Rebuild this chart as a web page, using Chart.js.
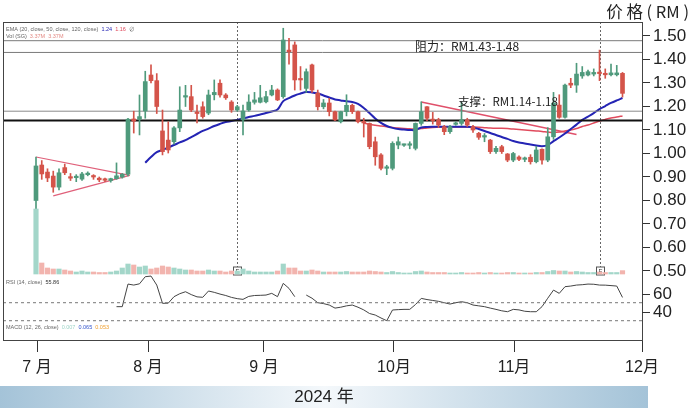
<!DOCTYPE html>
<html>
<head>
<meta charset="utf-8">
<script src="https://cdn.jsdelivr.net/npm/chart.js@4.4.1/dist/chart.umd.min.js"></script>
<style>
  html, body { margin: 0; padding: 0; background: #fff; }
  canvas { display: block; }
</style>
</head>
<body>
<canvas id="chart" width="690" height="408"></canvas>
<script>
// ---- data (one entry per trading day, Jul - Nov 2024) ----
const opens = [0.80,0.951,0.921,0.904,0.857,0.94,0.90,0.897,0.891,0.91,0.902,0.895,0.888,0.885,0.893,0.900,0.912,1.147,1.146,1.181,
  1.334,1.31,1.096,1.057,1.05,1.109,1.24,1.242,1.172,1.199,1.172,1.25,1.299,1.249,1.219,1.185,1.143,1.185,1.218,1.218,
  1.22,1.249,1.27,1.242,1.44,1.462,1.315,1.277,1.377,1.257,1.199,1.215,1.178,1.135,1.178,1.205,1.178,1.135,1.128,1.05,
  0.994,0.937,0.937,1.036,1.035,1.035,1.022,1.128,1.199,1.145,1.143,1.114,1.093,1.124,1.128,1.143,1.114,1.086,1.07,1.057,
  1.008,1.029,0.998,0.972,0.985,0.975,0.984,0.965,1.018,0.972,1.071,1.206,1.154,1.299,1.291,1.33,1.334,1.338,1.345,1.338,
  1.335,1.335,1.341];
const highs = [0.985,0.97,0.935,0.925,0.935,0.955,0.915,0.91,0.92,0.922,0.91,0.90,0.895,0.895,0.96,0.915,1.15,1.18,1.249,1.35,
  1.377,1.34,1.185,1.135,1.115,1.284,1.29,1.29,1.206,1.22,1.27,1.313,1.313,1.255,1.225,1.205,1.206,1.25,1.26,1.29,
  1.265,1.29,1.275,1.533,1.49,1.475,1.37,1.36,1.38,1.27,1.23,1.235,1.18,1.18,1.25,1.21,1.18,1.15,1.13,1.07,
  1.00,0.95,1.05,1.07,1.04,1.05,1.13,1.22,1.20,1.175,1.15,1.12,1.12,1.135,1.22,1.15,1.12,1.09,1.085,1.06,
  1.03,1.035,1.0,1.005,0.99,0.985,0.995,1.03,1.02,1.11,1.26,1.25,1.295,1.32,1.384,1.37,1.355,1.36,1.44,1.36,
  1.38,1.375,1.345];
const lows = [0.76,0.89,0.88,0.835,0.845,0.91,0.885,0.88,0.885,0.905,0.89,0.88,0.88,0.878,0.89,0.895,0.905,1.087,1.079,1.15,
  1.30,1.17,0.994,1.002,1.04,1.093,1.20,1.178,1.13,1.15,1.165,1.228,1.24,1.23,1.175,1.18,1.079,1.18,1.21,1.215,
  1.215,1.245,1.225,1.235,1.38,1.27,1.27,1.26,1.26,1.185,1.19,1.16,1.14,1.13,1.16,1.17,1.13,1.07,1.02,0.95,
  0.93,0.91,0.93,1.02,1.03,1.02,1.015,1.12,1.14,1.125,1.11,1.08,1.085,1.12,1.12,1.115,1.09,1.06,1.05,1.0,
  1.0,1.0,0.965,0.965,0.97,0.965,0.955,0.96,0.955,0.965,1.06,1.15,1.15,1.28,1.26,1.32,1.33,1.33,1.31,1.32,
  1.33,1.33,1.24];
const closes = [0.947,0.913,0.896,0.857,0.918,0.918,0.895,0.899,0.913,0.914,0.90,0.888,0.886,0.893,0.905,0.912,1.146,1.138,1.157,1.306,
  1.31,1.20,1.008,1.015,1.109,1.185,1.245,1.185,1.17,1.157,1.249,1.26,1.249,1.237,1.185,1.199,1.181,1.219,1.228,1.237,
  1.242,1.27,1.228,1.483,1.433,1.313,1.313,1.348,1.27,1.199,1.215,1.178,1.143,1.178,1.205,1.178,1.135,1.13,1.029,0.986,
  0.937,0.94,1.043,1.05,1.037,1.036,1.128,1.178,1.15,1.14,1.121,1.093,1.114,1.127,1.143,1.121,1.10,1.069,1.072,1.008,
  1.022,1.008,0.972,1.0,0.975,0.977,0.965,1.015,0.972,1.071,1.214,1.154,1.291,1.291,1.338,1.345,1.348,1.345,1.34,1.335,
  1.343,1.343,1.256];
// volume in millions of shares
const volumes = [65,11,6,5,5,4,3,2,3,2,2,1.5,1.5,2,3,6,10,9,7,8,
  5,6,8,7,6,5,4,4,3,3,4,3,3,2,3,3,5,3,2,2,
  2,2,3,10,6,6,3,3,4,3,2,2,2,2,2.5,2,2,2,3,2.5,
  2,1.5,2.5,1.5,1,1,2.5,3,2,1.5,1.5,1.5,1,1,1.5,1,1,1.5,1,1.5,
  1,1,1.5,1.5,1,1,1,1.5,1.5,2.5,3.5,3,3,2,2.5,2,1.5,1.5,2,1.5,
  1.5,1.5,3.37];
const ema20 = [null,null,null,null,null,null,null,null,null,null,null,null,null,null,null,null,null,null,null,0.961,
  0.985,1.006,1.015,1.026,1.036,1.047,1.057,1.07,1.083,1.096,1.106,1.117,1.126,1.134,1.138,1.143,1.149,1.155,1.16,1.166,
  1.172,1.179,1.187,1.223,1.236,1.247,1.255,1.262,1.26,1.255,1.247,1.238,1.23,1.226,1.222,1.219,1.211,1.194,1.172,1.149,
  1.13,1.117,1.109,1.104,1.102,1.1,1.1,1.111,1.113,1.114,1.114,1.114,1.114,1.114,1.114,1.114,1.111,1.104,1.096,1.087,
  1.079,1.07,1.062,1.053,1.047,1.043,1.038,1.034,1.031,1.036,1.053,1.068,1.085,1.104,1.123,1.143,1.157,1.172,1.189,1.202,
  1.215,1.226,1.236];
const ema50 = [null,null,null,null,null,null,null,null,null,null,null,null,null,null,null,null,null,null,null,null,
  null,null,null,null,null,null,null,null,null,null,null,null,null,null,null,null,null,null,null,null,
  null,null,null,null,null,null,null,null,null,null,null,null,null,null,null,null,null,1.13,1.124,1.12,
  1.117,1.114,1.111,1.108,1.106,1.105,1.104,1.106,1.109,1.111,1.112,1.113,1.113,1.113,1.113,1.113,1.113,1.112,1.11,1.108,
  1.107,1.107,1.106,1.104,1.102,1.1,1.098,1.096,1.094,1.091,1.089,1.091,1.096,1.1,1.106,1.115,1.121,1.13,1.138,1.145,
  1.151,1.155,1.16];
const rsi = [null,null,null,null,null,null,null,null,null,null,null,null,null,null,45.6,45.6,70.7,69.6,71,78.9,
  79.6,69.6,49.3,49.5,56.7,60,62.2,59,56.5,56,63,61.5,59.6,58,55.9,54.5,53.7,57,58,58.2,
  58.5,60.4,56.7,71.5,65.9,56.7,null,58.5,55,50,49,47.4,44,45,46.5,47.4,45,42,38,36.3,
  33,30,41.9,42.3,42.6,42.6,48,54.8,53.5,52.5,51.5,50,48.5,50,51.1,50,47.4,46.5,45.6,44,
  42.6,41,40,42.6,42,40.5,40,40,45.6,55,64,60.4,67.8,68.5,69.6,70,70.7,70.5,69.6,69.5,
  69,68.5,55.86];

// annotation lines drawn by the analyst: [candle index, price]
const pennantUpper = [[0, 0.985], [16.3, 0.907]];
const pennantLower = [[3, 0.82], [16.3, 0.907]];
const downTrend = [[67, 1.219], [94, 1.081]];
const resistance = [1.48, 1.43];
const support = [1.18, 1.14];
const earningsIdx = [35, 98];
const rsiBands = [50, 30];

// axes
const priceTicks = [0.5, 0.6, 0.7, 0.8, 0.9, 1.0, 1.1, 1.2, 1.3, 1.4, 1.5];
const rsiTicks = [60, 40];
const monthTicks = [0.174, 19.48, 39.65, 62.26, 83.13, 105.39];
const monthLabels = ['7 月', '8 月', '9 月', '10月', '11月', '12月'];
const X_MIN = -5.739, X_MAX = 105.39;

const UP = '#4f9a7c', DOWN = '#d4544a';
const VOL_UP = '#a3d6c9', VOL_DOWN = '#f2b4ae';
const NUM_FONT = '"Liberation Sans", Arial, "Noto Sans CJK SC", sans-serif';
const CJK_FONT = '"Noto Sans CJK SC", "Liberation Sans", sans-serif';

const isUp = opens.map((o, i) => closes[i] >= o);
const idx = opens.map((_, i) => i);

function seg(points) {
  return points.map(p => ({x: p[0], y: p[1]}));
}
function hline(v) {
  return [{x: X_MIN, y: v}, {x: X_MAX, y: v}];
}
function lineDs(data, color, width, extra) {
  return Object.assign({
    type: 'line', data: data, borderColor: color, borderWidth: width,
    pointRadius: 0, fill: false, tension: 0, yAxisID: 'y'
  }, extra || {});
}

const datasets = [
  // volume
  {
    type: 'bar', yAxisID: 'yV', grouped: false, barThickness: 4.5,
    data: idx.map(i => ({x: i, y: volumes[i]})),
    backgroundColor: idx.map(i => isUp[i] ? VOL_UP : VOL_DOWN)
  },
  // candle wicks
  {
    type: 'bar', yAxisID: 'y', grouped: false, barThickness: 1, minBarLength: 1,
    data: idx.map(i => ({x: i, y: [lows[i], highs[i]]})),
    backgroundColor: idx.map(i => isUp[i] ? UP : DOWN)
  },
  // candle bodies
  {
    type: 'bar', yAxisID: 'y', grouped: false, barThickness: 4, minBarLength: 1.5,
    data: idx.map(i => ({x: i, y: [opens[i], closes[i]]})),
    backgroundColor: idx.map(i => isUp[i] ? UP : DOWN)
  },
  // support / resistance levels
  lineDs(hline(resistance[0]), '#7a7a7a', 1),
  lineDs(hline(resistance[1]), '#7a7a7a', 1),
  lineDs(hline(support[0]), '#8a8a8a', 1),
  lineDs(hline(support[1]), '#111', 2),
  // moving averages
  lineDs(idx.map(i => ({x: i, y: ema20[i]})), '#2424b4', 2, {tension: 0.35}),
  lineDs(idx.map(i => ({x: i, y: ema50[i]})), '#e04a5c', 1.5, {tension: 0.35}),
  // trend lines
  lineDs(seg(pennantUpper), '#e0607a', 1.2),
  lineDs(seg(pennantLower), '#e0607a', 1.2),
  lineDs(seg(downTrend), '#e0506a', 1.5),
  // RSI
  lineDs(hline(rsiBands[0]), '#777', 1, {yAxisID: 'yR', borderDash: [3, 3]}),
  lineDs(hline(rsiBands[1]), '#777', 1, {yAxisID: 'yR', borderDash: [3, 3]}),
  lineDs(idx.map(i => ({x: i, y: rsi[i]})), '#444', 1, {yAxisID: 'yR', spanGaps: false})
];

function text(ctx, s, x, y, font, color, align) {
  ctx.font = font;
  ctx.fillStyle = color;
  ctx.textAlign = align || 'left';
  ctx.textBaseline = 'middle';
  ctx.fillText(s, x, y);
}
// draw consecutive coloured pieces of a small legend line
function runs(ctx, x, y, parts, size) {
  ctx.font = size + 'px ' + NUM_FONT;
  ctx.textBaseline = 'middle';
  ctx.textAlign = 'left';
  parts.forEach(p => {
    ctx.fillStyle = p[1];
    ctx.fillText(p[0], x, y);
    x += ctx.measureText(p[0]).width;
  });
}

const overlay = {
  id: 'overlay',
  beforeDraw(chart) {
    const ctx = chart.ctx;
    ctx.save();
    ctx.fillStyle = '#fff';
    ctx.fillRect(0, 0, chart.width, chart.height);
    ctx.restore();
  },
  beforeDatasetsDraw(chart) {
    const {ctx, chartArea: a, scales} = chart;
    ctx.save();
    // earnings markers
    earningsIdx.forEach(e => {
      const x = Math.round(scales.x.getPixelForValue(e)) + 0.5;
      const yb = scales.yV.getPixelForValue(3);
      ctx.strokeStyle = '#666';
      ctx.lineWidth = 1;
      ctx.setLineDash([2, 2]);
      ctx.beginPath();
      ctx.moveTo(x, a.top);
      ctx.lineTo(x, yb - 4);
      ctx.stroke();
      ctx.setLineDash([]);
      ctx.fillStyle = '#fff';
      ctx.fillRect(x - 4, yb - 4, 8, 8);
      ctx.strokeStyle = '#555';
      ctx.strokeRect(x - 4, yb - 4, 8, 8);
      text(ctx, 'E', x, yb + 0.5, '6px ' + NUM_FONT, '#333', 'center');
    });
    ctx.restore();
  },
  afterDraw(chart) {
    const {ctx, chartArea: a, scales} = chart;
    ctx.save();
    // frame
    ctx.strokeStyle = '#444';
    ctx.lineWidth = 1;
    ctx.strokeRect(a.left + 0.5, a.top + 0.5, a.right - a.left, a.bottom - a.top);

    // pane legends
    runs(ctx, 6, 29.5, [['EMA (20, close, 50, close, 120, close)  ', '#666'], ['1.24  ', '#2424b4'], ['1.16  ', '#e04a5c'], ['\u2205', '#666']], 5.5);
    runs(ctx, 6, 36, [['Vol (SG)  ', '#666'], ['3.37M  3.37M', '#e38a84']], 5.5);
    runs(ctx, 6, 282, [['RSI (14, close)  ', '#666'], ['55.86', '#333']], 5.5);
    runs(ctx, 6, 327, [['MACD (12, 26, close)  ', '#666'], ['0.007  ', '#9fd5c8'], ['0.065  ', '#3355cc'], ['0.053', '#f0a030']], 5.5);

    // level labels
    text(ctx, '阻力：RM1.43-1.48', scales.x.getPixelForValue(65.9), scales.y.getPixelForValue(1.455),
      '12px ' + CJK_FONT, '#222', 'left');
    text(ctx, '支撑：RM1.14-1.18', scales.x.getPixelForValue(73.4), scales.y.getPixelForValue(1.22),
      '11.5px ' + CJK_FONT, '#222', 'left');

    // RSI ticks on the shared right axis
    rsiTicks.forEach(v => {
      const y = Math.round(scales.yR.getPixelForValue(v)) + 0.5;
      ctx.strokeStyle = '#333';
      ctx.beginPath();
      ctx.moveTo(a.right, y);
      ctx.lineTo(a.right + 8, y);
      ctx.stroke();
      text(ctx, String(v), a.right + 11, y, '17px ' + NUM_FONT, '#222', 'left');
    });

    // axis title
    text(ctx, '价 格 ( RM )', 689, 12, '16.5px ' + CJK_FONT, '#222', 'right');

    // year band
    const g = ctx.createLinearGradient(0, 0, 648, 0);
    g.addColorStop(0, '#a4c3d8');
    g.addColorStop(0.5, '#f4f8fb');
    g.addColorStop(1, '#a4c3d8');
    ctx.fillStyle = g;
    ctx.fillRect(0, 386, 648, 22);
    text(ctx, '2024 年', 324, 397.5, '17px ' + NUM_FONT, '#222', 'center');
    ctx.restore();
  }
};

new Chart(document.getElementById('chart'), {
  type: 'bar',
  data: {datasets: datasets},
  plugins: [overlay],
  options: {
    responsive: false,
    devicePixelRatio: 1,
    animation: false,
    events: [],
    layout: {padding: {left: 3, top: 22, right: 0, bottom: 0}},
    plugins: {legend: {display: false}, tooltip: {enabled: false}, title: {display: false}},
    scales: {
      x: {
        type: 'linear', offset: false, min: X_MIN, max: X_MAX,
        afterBuildTicks: s => { s.ticks = monthTicks.map(v => ({value: v})); },
        afterFit: s => { s.height = 68; },
        ticks: {
          autoSkip: false, maxRotation: 0, padding: 6, color: '#222',
          font: {family: NUM_FONT, size: 16},
          callback: (v, i) => monthLabels[i]
        },
        grid: {display: true, offset: false, drawOnChartArea: false, drawTicks: true, tickLength: 12, color: '#333'},
        border: {display: true, color: '#444'}
      },
      y: {
        position: 'right', min: 0.20638, max: 1.55957,
        afterBuildTicks: s => { s.ticks = priceTicks.map(v => ({value: v})); },
        afterFit: s => { s.width = 48; },
        ticks: {
          padding: 3, color: '#222',
          font: {family: NUM_FONT, size: 17},
          callback: v => v.toFixed(2)
        },
        grid: {display: true, drawOnChartArea: false, drawTicks: true, tickLength: 8, color: '#333'},
        border: {display: true, color: '#444'}
      },
      yR: {display: false, min: 8.56, max: 361.9},
      yV: {display: false, min: -66, max: 252}
    }
  }
});
</script>
</body>
</html>
